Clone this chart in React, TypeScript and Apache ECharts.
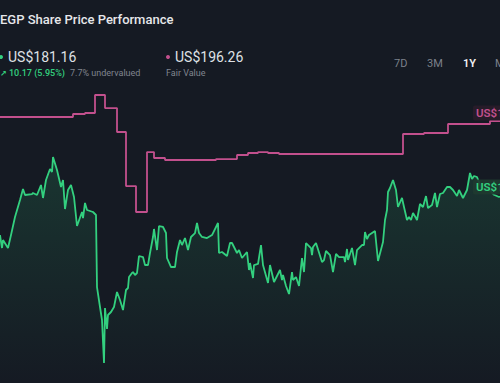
import React, { useEffect, useRef } from "react";
import * as echarts from "echarts";

// x positions in "t" units (chart timeline, 0..500), price values in US$
const priceT = [
  0, 2, 3, 8, 11, 15, 20, 23, 25, 32, 33, 37, 41, 43, 46, 50, 52, 53, 57, 61, 63, 65, 68, 71, 74, 77, 82, 83, 85, 87, 93, 96,
  97, 100, 102, 104, 105, 107, 108, 111, 114, 117, 120, 123, 126, 128, 129, 132, 133, 135, 137, 139, 143, 145, 148, 150,
  153, 154, 157, 159, 163, 166, 167, 171, 175, 177, 180, 182, 185, 188, 191, 195, 197, 199, 202, 207, 212, 218, 219, 222,
  227, 230, 232, 237, 239, 242, 247, 249, 250, 253, 254, 258, 261, 263, 268, 270, 274, 280, 282, 283, 286, 289, 292, 293,
  296, 299, 302, 304, 306, 311, 312, 313, 316, 322, 324, 326, 330, 333, 336, 339, 344, 345, 347, 348, 352, 355, 357, 362,
  364, 365, 367, 369, 375, 378, 383, 385, 387, 388, 390, 393, 396, 398, 402, 404, 407, 409, 411, 413, 416, 417, 420, 423,
  426, 428, 432, 435, 437, 440, 443, 447, 450, 453, 457, 459, 463, 467, 470, 472, 474, 477, 482, 488, 494, 499, 505,
];
const priceValues = [
  172.99, 170.34, 171.97, 170.34, 172.99, 176.67, 180.14, 182.38, 181.16, 181.36, 181.57, 181.16, 183.2, 180.55, 184.22,
  186.46, 185.85, 188.91, 186.26, 182.79, 184.22, 178.3, 182.18, 183.2, 180.75, 174.83, 177.69, 176.46, 179.53, 178.1,
  177.69, 177.08, 162.38, 158.3, 155.65, 146.87, 158.1, 153.81, 156.67, 157.28, 158.3, 161.36, 159.73, 157.69, 161.77,
  162.18, 164.42, 165.24, 165.44, 164.83, 165.24, 168.71, 168.5, 166.87, 166.87, 169.32, 172.59, 174.22, 169.93, 174.83,
  174.63, 173.4, 168.3, 166.46, 166.46, 169.53, 171.97, 170.95, 172.38, 169.93, 172.59, 173.4, 175.44, 173.4, 172.59,
  172.38, 172.99, 175.44, 169.32, 169.53, 168.71, 171.36, 171.36, 169.32, 169.93, 168.3, 169.53, 165.85, 167.28, 164.22,
  166.87, 167.08, 170.95, 166.87, 163.2, 166.87, 163.4, 165.85, 163.81, 164.83, 162.59, 160.95, 165.44, 163.81, 164.42,
  162.59, 168.3, 165.44, 171.36, 170.34, 168.91, 170.55, 171.36, 167.48, 167.89, 169.73, 168.91, 165.44, 169.12, 168.5,
  168.5, 167.48, 170.14, 167.89, 170.34, 166.87, 169.93, 170.95, 170.95, 173.61, 172.18, 172.99, 173.81, 167.69, 171.57,
  176.06, 178.1, 181.77, 182.59, 184.22, 182.18, 178.71, 180.55, 178.71, 176.06, 176.67, 176.06, 177.48, 176.46, 176.06,
  179.32, 178.71, 180.95, 178.5, 179.12, 181.57, 178.71, 181.36, 181.57, 182.79, 182.79, 182.18, 180.95, 182.18, 180.55,
  182.18, 185.65, 184.42, 185.04, 184.83, 182.2, 182.5, 181.2, 180.75, 181.16,
];

// fair value steps: value holds from each t until the next one
const fairT = [-5, 73, 85, 95, 105, 117, 126, 136, 147, 154, 165, 216, 237, 248, 258, 268, 279, 403, 424, 448, 490, 510];
const fairValues = [
  197.08, 197.69, 197.89, 201.57, 198.91, 194.02, 182.99, 177.69, 189.93, 188.71, 188.3, 188.5, 189.32, 189.73, 189.93,
  189.73, 189.53, 193.61, 193.81, 195.65, 196.26, 196.26,
];

const rangeButtons = ["7D", "3M", "1Y", "Max"];
const activeRange = "1Y";
const titleText = "EGP Share Price Performance";
const lastPrice = "US$181.16";
const fairValueText = "US$196.26";
const changeText = "10.17 (5.95%)";
const valuationText = "7.7% undervalued";

const GREEN = "#33d07f";
const PINK = "#c2508d";
const BG = "#151a23";
const FONT = "Roboto, 'DejaVu Sans', sans-serif";

export default function App() {
  const ref = useRef<HTMLDivElement>(null);
  useEffect(() => {
    if (!ref.current) return;
    const chart = echarts.init(ref.current, undefined, { renderer: "svg" });
    const price = priceT.map((t, i) => [t, priceValues[i]]);
    const fair = fairT.map((t, i) => [t, fairValues[i]]);
    const btnX = [394, 427, 463, 495];
    chart.setOption({
      animation: false,
      backgroundColor: BG,
      grid: { left: 0, right: 0, top: 80, bottom: 0 },
      xAxis: { type: "value", min: 0, max: 500, show: false },
      yAxis: { type: "value", min: 142.79, max: 204.63, show: false },
      series: [
        {
          type: "line",
          data: price,
          showSymbol: false,
          lineStyle: { color: GREEN, width: 1.8 },
          areaStyle: {
            origin: "start",
            color: new echarts.graphic.LinearGradient(0, 0, 0, 1, [
              { offset: 0, color: "rgba(51,208,127,0.22)" },
              { offset: 1, color: "rgba(51,208,127,0)" },
            ]),
          },
          z: 3,
        },
        {
          type: "line",
          data: fair,
          step: "end",
          showSymbol: false,
          lineStyle: { color: PINK, width: 1.8 },
          z: 2,
        },
      ],
      graphic: [
        { type: "text", left: 0, top: 13, style: { text: titleText, fill: "#e6e7ea", fontSize: 13, fontWeight: 500, fontFamily: FONT } },
        { type: "circle", shape: { cx: 1, cy: 57, r: 2 }, style: { fill: GREEN } },
        { type: "text", x: 8, y: 57, style: { text: lastPrice, fill: "#dfe1e5", fontSize: 14, fontFamily: FONT, verticalAlign: "middle" } },
        { type: "circle", shape: { cx: 168, cy: 57, r: 2 }, style: { fill: PINK } },
        { type: "text", x: 175, y: 57, style: { text: fairValueText, fill: "#dfe1e5", fontSize: 14, fontFamily: FONT, verticalAlign: "middle" } },
        { type: "text", x: 0, y: 73, style: { text: "↗", fill: GREEN, fontSize: 8, fontFamily: "'DejaVu Sans', sans-serif", verticalAlign: "middle", fontWeight: 700 } },
        { type: "text", x: 9, y: 73, style: { text: changeText, fill: GREEN, fontSize: 9, fontWeight: 500, fontFamily: FONT, verticalAlign: "middle" } },
        { type: "text", x: 70, y: 73, style: { text: valuationText, fill: "#80858f", fontSize: 9, fontFamily: FONT, verticalAlign: "middle" } },
        { type: "text", x: 166, y: 73, style: { text: "Fair Value", fill: "#80858f", fontSize: 9, fontFamily: FONT, verticalAlign: "middle" } },
        ...rangeButtons.map((b, i) => ({
          type: "text",
          x: btnX[i],
          y: 63,
          style: {
            text: b,
            fill: b === activeRange ? "#f2f2f4" : "#7c818b",
            fontSize: 11,
            fontWeight: b === activeRange ? 600 : 400,
            fontFamily: FONT,
            verticalAlign: "middle",
          },
        })),
        {
          type: "text",
          x: 473,
          y: 113,
          z: 10,
          style: {
            text: fairValueText,
            fill: PINK,
            fontSize: 11.5,
            fontWeight: 600,
            fontFamily: FONT,
            verticalAlign: "middle",
            backgroundColor: "rgba(40,28,42,0.95)",
            padding: [2, 3, 1, 3],
            borderRadius: 2,
          },
        },
        {
          type: "text",
          x: 473,
          y: 187,
          z: 10,
          style: {
            text: lastPrice,
            fill: GREEN,
            fontSize: 11.5,
            fontWeight: 600,
            fontFamily: FONT,
            verticalAlign: "middle",
            backgroundColor: "rgba(30,58,48,0.92)",
            padding: [2, 3, 1, 3],
            borderRadius: 2,
          },
        },
      ],
    });
    return () => chart.dispose();
  }, []);
  return (
    <div
      ref={ref}
      style={{ position: "fixed", left: 0, top: 0, width: 500, height: 383 }}
    />
  );
}
